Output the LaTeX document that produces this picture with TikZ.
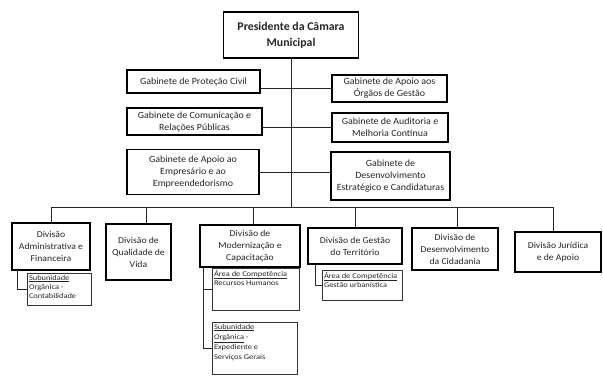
\documentclass[tikz,border=0pt]{standalone}
\usepackage{fontspec}
\setmainfont{Carlito}
\newfontfamily\gfont{Carlito}[FakeStretch=1.05]
\newfontfamily\dfont{Carlito}[FakeStretch=1.08]
\newfontfamily\sfont{Carlito}[FakeStretch=1.15]
\begin{document}
\begin{tikzpicture}[x=1pt,y=-1pt,
  box/.style={draw=black, line width=1.1pt, align=center, inner sep=2pt, text=black!85},
  pbox/.style={box, font=\fontsize{11.8}{16}\selectfont\bfseries},
  gbox/.style={box, font=\gfont\fontsize{9.5}{12}\selectfont},
  dbox/.style={box, font=\dfont\fontsize{9}{12}\selectfont},
  sbox/.style={draw=black!80, line width=0.6pt, inner sep=2pt, text=black!85, font=\sfont\fontsize{7.3}{9}\selectfont},
  conn/.style={draw=black!85, line width=0.7pt}]
\useasboundingbox[fill=white] (0,0) rectangle (603,376);

% top
\node[pbox, minimum width=135pt, minimum height=46pt] (pres) at (291,35) {Presidente da Câmara\\Municipal};

% gabinetes
\node[gbox, minimum width=133pt, minimum height=23pt] (g1) at (193.5,81.5) {Gabinete de Proteção Civil};
\node[gbox, minimum width=135pt, minimum height=27pt] (g2) at (194.5,121.5) {Gabinete de Comunicação e\\Relações Públicas};
\node[gbox, minimum width=132pt, minimum height=45pt] (g3) at (193,172) {Gabinete de Apoio ao\\Empresário e ao\\Empreendedorismo};
\node[gbox, minimum width=115pt, minimum height=27pt] (g4) at (389.5,88.5) {Gabinete de Apoio aos\\Órgãos de Gestão};
\node[gbox, minimum width=116pt, minimum height=29pt] (g5) at (390,127.5) {Gabinete de Auditoria e\\Melhoria Contínua};
\node[gbox, minimum width=119pt, minimum height=48pt] (g6) at (390.5,176) {Gabinete de\\Desenvolvimento\\Estratégico e Candidaturas};

% divisoes
\node[dbox, minimum width=78pt, minimum height=47pt] (d1) at (51,246.5) {Divisão\\Administrativa e\\Financeira};
\node[dbox, minimum width=65pt, minimum height=56pt] (d2) at (138.5,252) {Divisão de\\Qualidade de\\Vida};
\node[dbox, minimum width=100pt, minimum height=42pt] (d3) at (250,246) {Divisão de\\Modernização e\\Capacitação};
\node[dbox, minimum width=94pt, minimum height=36pt] (d4) at (355,246) {Divisão de Gestão\\do Território};
\node[dbox, minimum width=86pt, minimum height=42pt] (d5) at (455,249) {Divisão de\\Desenvolvimento\\da Cidadania};
\node[dbox, minimum width=86pt, minimum height=40pt] (d6) at (558,252) {Divisão Jurídica\\e de Apoio};

% subunidades
\node[sbox] (s1) at (59,289) {\parbox[c][28pt][t]{60pt}{\raggedright\underline{Subunidade}\\Orgânica -\\Contabilidade}};
\node[sbox] (s2) at (255.5,289) {\parbox[c][38pt][t]{83pt}{\raggedright\underline{Área de Competência}\\Recursos Humanos}};
\node[sbox, font=\sfont\fontsize{7.3}{10}\selectfont] (s3) at (254.5,348) {\parbox[c][48pt][t]{81pt}{\raggedright\underline{Subunidade}\\\underline{Orgânica} -\\Expediente e\\Serviços Gerais}};
\node[sbox] (s4) at (362,285) {\parbox[c][26pt][t]{76pt}{\raggedright\underline{Área de Competência}\\Gestão urbanística}};

% connectors
\coordinate (busL) at (51,207);
\coordinate (busR) at (553,207);
\draw[conn] (pres.south) -- (pres.south |- busL);
\draw[conn] (g1.east |- g4.west) -- (g4.west);
\draw[conn] (g2.east |- g5.west) -- (g5.west);
\draw[conn] (g3.east) -- (g3.east -| g6.west);
\draw[conn] (busL) -- (busR);
\draw[conn] (d1.north) -- (d1.north |- busL);
\draw[conn] ([xshift=8pt]d2.north) -- ([xshift=8pt]d2.north |- busL);
\draw[conn] ([xshift=3pt]d3.north) -- ([xshift=3pt]d3.north |- busL);
\draw[conn] (d4.north) -- (d4.north |- busL);
\draw[conn] ([xshift=2pt]d5.north) -- ([xshift=2pt]d5.north |- busL);
\draw[conn] ([xshift=-5pt]d6.north) -- ([xshift=-5pt]d6.north |- busL);

\draw[conn] ([xshift=-34pt]d1.south) |- (s1.west);
\draw[conn] ([xshift=-47pt]d3.south) |- (s2.west);
\draw[conn] ([xshift=-47pt]d3.south) |- (s3.west);
\draw[conn] ([xshift=-40pt]d4.south) |- (s4.west);
\end{tikzpicture}
\end{document}
